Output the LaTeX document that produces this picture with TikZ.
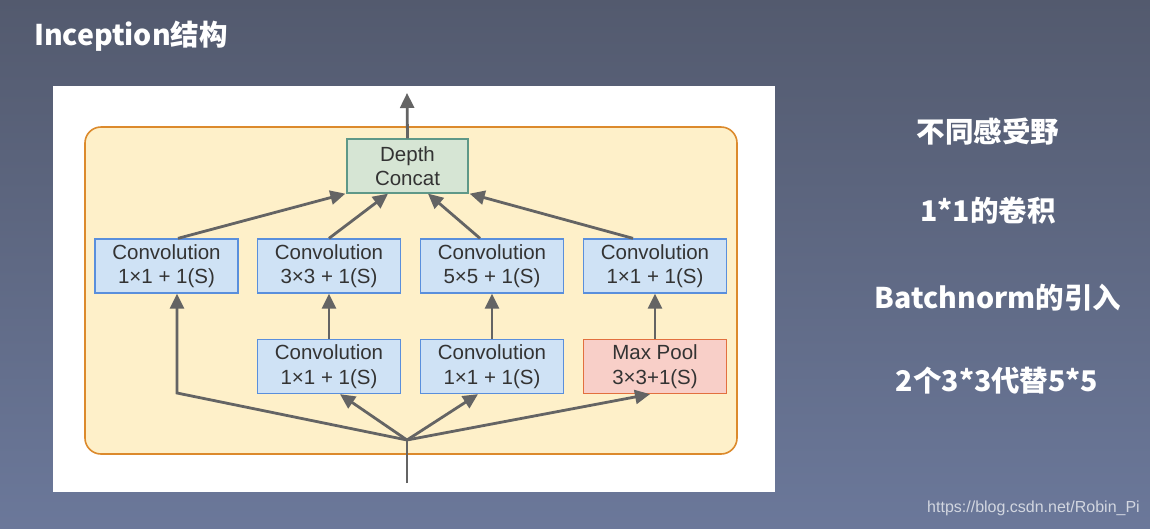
\documentclass[tikz,border=0pt]{standalone}
\usepackage{fontspec}
\setmainfont{Liberation Sans}
\newfontfamily\cjk{Noto Sans CJK SC}
\usetikzlibrary{arrows.meta,calc}
\definecolor{bgtop}{HTML}{535A6E}
\definecolor{bgbot}{HTML}{6B789A}
\definecolor{yfill}{HTML}{FEF0C9}
\definecolor{ydraw}{HTML}{DC8A2C}
\definecolor{bfill}{HTML}{CFE2F5}
\definecolor{bdraw}{HTML}{5A8FDC}
\definecolor{gfill}{HTML}{D6E5D4}
\definecolor{gdraw}{HTML}{5F9888}
\definecolor{rfill}{HTML}{F8CFC8}
\definecolor{rdraw}{HTML}{E2703F}
\definecolor{agray}{HTML}{646464}
\definecolor{txt}{HTML}{333333}
\definecolor{wm}{HTML}{D2D6E0}
\tikzset{
  boxbase/.style={rectangle, line width=1.3pt, align=center, text=txt,
    font=\fontsize{20.5}{24.5}\selectfont, inner sep=0pt},
  convbox/.style={boxbase, draw=bdraw, fill=bfill, minimum width=143pt, minimum height=54pt},
  poolbox/.style={boxbase, draw=rdraw, fill=rfill, minimum width=143pt, minimum height=54pt},
  concatbox/.style={boxbase, draw=gdraw, fill=gfill, minimum width=121pt, minimum height=54pt},
  arr/.style={draw=agray, line width=2.8pt, -{Triangle[length=15pt,width=14pt]}},
  plain/.style={draw=agray, line width=2.8pt},
  slide/.style={text=white, font=\cjk\bfseries\fontsize{28.5}{32}\selectfont, inner sep=0pt},
}
\begin{document}
\begin{tikzpicture}[x=1pt,y=-1pt]
\useasboundingbox (0,0) rectangle (1150,528);
\shade[top color=bgtop,bottom color=bgbot] (0,0) rectangle (1150,528);
\node[slide, anchor=west] (title) at (34,36) {Inception结构};
\fill[white] (53,86) rectangle (775,492);
\draw[draw=ydraw, fill=yfill, line width=1.6pt, rounded corners=16pt] (85,127) rectangle (737,454);
% nodes
\node[concatbox] (dc) at (407.5,166) {Depth\\Concat};
\node[convbox] (c1) at (166.5,266) {Convolution\\1×1 + 1(S)};
\node[convbox] (c2) at (329,266) {Convolution\\3×3 + 1(S)};
\node[convbox] (c3) at (492,266) {Convolution\\5×5 + 1(S)};
\node[convbox] (c4) at (655,266) {Convolution\\1×1 + 1(S)};
\node[convbox] (b2) at (329,366.5) {Convolution\\1×1 + 1(S)};
\node[convbox] (b3) at (492,366.5) {Convolution\\1×1 + 1(S)};
\node[poolbox] (mp) at (655,366.5) {Max Pool\\3×3+1(S)};
\coordinate (in) at (407,483);
\coordinate (j) at (407,440);
\coordinate (k1) at (177,393);
\coordinate (out) at (407,93);
% connectors
\draw[plain] (in) -- (j);
\draw[arr] (j) -- (k1) -- (k1 |- c1.south);
\draw[arr] (j) -- ([xshift=11pt]b2.south);
\draw[arr] (j) -- ([xshift=-14pt]b3.south);
\draw[arr] (j) -- ([xshift=-5pt]mp.south);
\draw[arr] (b2.north) -- (c2.south);
\draw[arr] (b3.north) -- (c3.south);
\draw[arr] (mp.north) -- (c4.south);
\draw[arr] ([xshift=11.5pt]c1.north) -- ([xshift=-1pt]dc.south west);
\draw[arr] (c2.north) -- ([xshift=-19.5pt]dc.south);
\draw[arr] ([xshift=-12pt]c3.north) -- ([xshift=20.5pt]dc.south);
\draw[arr] ([xshift=-22pt]c4.north) -- ([xshift=1pt]dc.south east);
\draw[arr] (dc.north) -- (out);
% right side texts
\node[slide] (t1) at (988,132) {不同感受野};
\node[slide] (t2) at (988,211) {1*1的卷积};
\node[slide] (t3) at (998,298) {Batchnorm的引入};
\node[slide] (t4) at (997,381) {2个3*3代替5*5};
\node[text=wm, font=\fontsize{16}{18}\selectfont, inner sep=0pt, anchor=east] (wmk) at (1140,508) {https://blog.csdn.net/Robin\_Pi};
\end{tikzpicture}
\end{document}
